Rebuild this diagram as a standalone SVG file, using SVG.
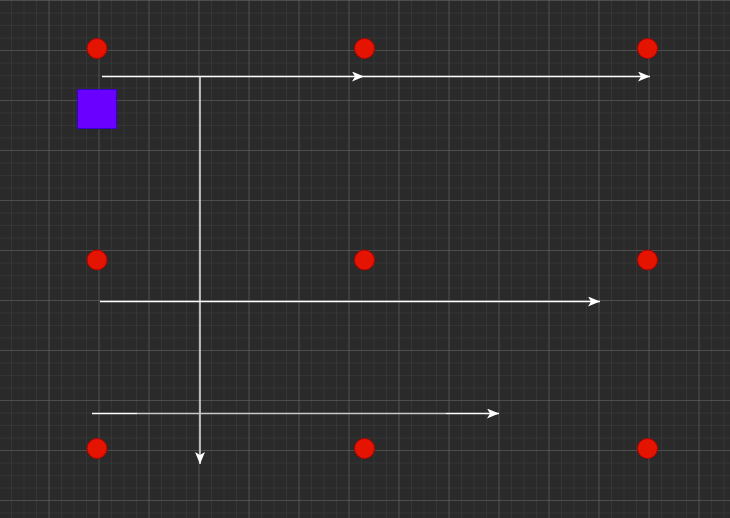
<svg xmlns="http://www.w3.org/2000/svg" width="730" height="518" viewBox="0 0 730 518">
<defs>
<pattern id="minor" x="-0.5" y="1" width="12.5" height="12.5" patternUnits="userSpaceOnUse">
<path d="M12.5 0 V12.5 M0 12.5 H12.5" fill="none" stroke="#3e3e3e" stroke-width="1"/>
</pattern>
<pattern id="major" x="-0.5" y="1" width="50" height="50" patternUnits="userSpaceOnUse">
<path d="M50 0 V50 M0 50 H50" fill="none" stroke="#666666" stroke-width="1"/>
</pattern>
<marker id="arr" viewBox="0 0 12 10" refX="12" refY="5" markerWidth="12" markerHeight="10" markerUnits="userSpaceOnUse" orient="auto">
<path d="M0 0 L12 5 L0 10 L3 5 Z" fill="#ffffff"/>
</marker>
<style>
.node{fill:#e51400;stroke:#b20000;stroke-width:1}
.edge{fill:none;stroke:#ffffff;stroke-width:1.3}
</style>
</defs>
<rect width="730" height="518" fill="#2a2a2a"/>
<rect width="730" height="518" fill="url(#minor)"/>
<rect width="730" height="518" fill="url(#major)"/>
<g id="edges">
<path class="edge" d="M102 76.5 H364" marker-end="url(#arr)"/>
<path class="edge" d="M364 76.5 H650" marker-end="url(#arr)"/>
<path class="edge" d="M200 76.5 V464" marker-end="url(#arr)"/>
<path class="edge" d="M100 301.5 H600" marker-end="url(#arr)"/>
<path class="edge" d="M137 413.5 H446" style="stroke:#c8c8c8"/>
<path class="edge" d="M92 413.5 H137" stroke-width="2"/>
<path class="edge" d="M446 413.5 H499" marker-end="url(#arr)"/>
</g>
<g id="n1"><circle class="node" cx="97" cy="48.5" r="10"/></g>
<g id="n2"><circle class="node" cx="364.5" cy="48.5" r="10"/></g>
<g id="n3"><circle class="node" cx="647.5" cy="48.5" r="10"/></g>
<g id="n4"><circle class="node" cx="97" cy="260" r="10"/></g>
<g id="n5"><circle class="node" cx="364.5" cy="260" r="10"/></g>
<g id="n6"><circle class="node" cx="647.5" cy="260" r="10"/></g>
<g id="n7"><circle class="node" cx="97" cy="448.5" r="10"/></g>
<g id="n8"><circle class="node" cx="364.5" cy="448.5" r="10"/></g>
<g id="n9"><circle class="node" cx="647.5" cy="448.5" r="10"/></g>
<g id="square"><rect x="77.5" y="89.5" width="39" height="39" fill="#6a00ff" stroke="#3700cc" stroke-width="1"/></g>
</svg>
